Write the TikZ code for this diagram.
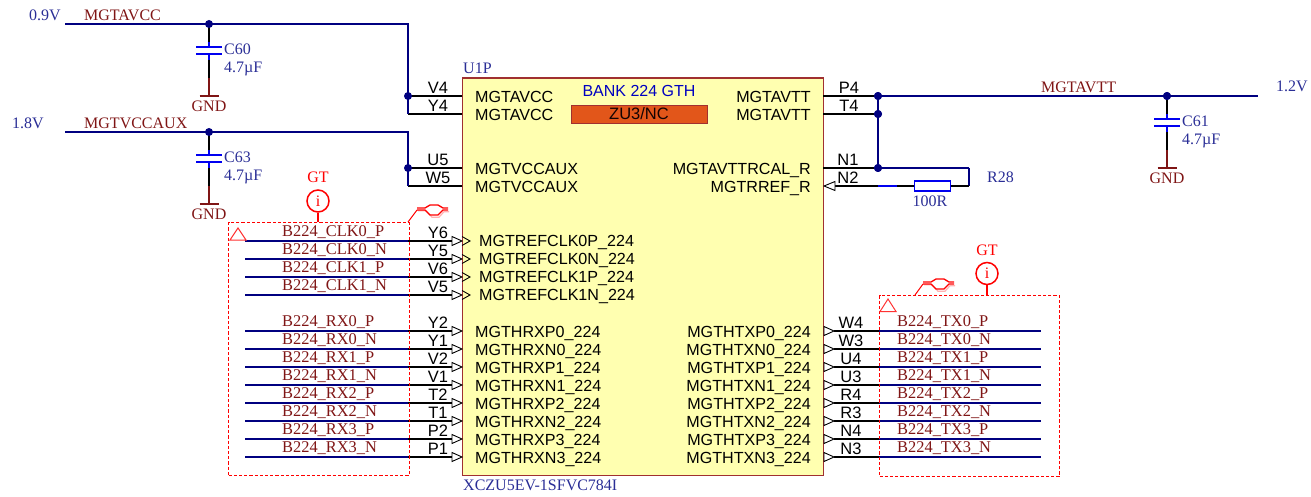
\documentclass[tikz,border=0pt]{standalone}
\usepackage{fontspec}
\setmainfont{Liberation Serif}
\setsansfont{Liberation Sans}
\definecolor{wirenavy}{HTML}{000080}
\definecolor{netred}{HTML}{7F1515}
\definecolor{txtblue}{HTML}{2A2E96}
\definecolor{capblue}{HTML}{0000F0}
\definecolor{chipfill}{HTML}{FFFFB0}
\definecolor{chipedge}{HTML}{A03030}
\definecolor{bankorange}{HTML}{E2561A}
\definecolor{gtred}{HTML}{FF0000}
\tikzset{
  wire/.style={draw=wirenavy,line width=1.7pt},
  pinline/.style={draw=black,line width=1.2pt},
  gndline/.style={draw=netred,line width=1.2pt},
  capplate/.style={draw=capblue,line width=1.5pt},
  stub/.style={draw=capblue,line width=1.2pt},
  dot/.style={circle,fill=wirenavy,inner sep=0pt,minimum size=8pt},
  serifbase/.style={font=\rmfamily\fontsize{16}{16}\selectfont,inner sep=0pt},
  netlabel/.style={serifbase,text=netred,anchor=base west},
  siglabel/.style={netlabel,font=\rmfamily\fontsize{16.4}{16.4}\selectfont},
  netcenter/.style={serifbase,text=netred,anchor=base},
  partlabel/.style={serifbase,text=txtblue,anchor=base west},
  partcenter/.style={serifbase,text=txtblue,anchor=base},
  sanslabel/.style={font=\sffamily\fontsize{16.1}{16.1}\selectfont,inner sep=0pt,text=black},
  pinnameL/.style={sanslabel,anchor=base west},
  pinnameR/.style={sanslabel,anchor=base east},
  pinnum/.style={font=\sffamily\fontsize{16.5}{16.5}\selectfont,inner sep=0pt,text=black,anchor=base},
  tri/.style={draw=black,line width=.9pt,fill=white},
  gtbox/.style={draw=gtred,line width=1.2pt,dash pattern=on 3.2pt off 2pt,inner sep=0pt,anchor=north west},
  gtinfo/.style={circle,draw=gtred,line width=1.5pt,minimum size=22pt,inner sep=0pt,font=\rmfamily\fontsize{16}{16}\selectfont,text=gtred},
  gttext/.style={serifbase,text=gtred,anchor=base},
  gtline/.style={draw=gtred,line width=1.3pt},
  gtshade/.style={draw=gtred!30,line width=1.2pt},
  gtmark/.style={draw=gtred!80,line width=1pt}
}
\begin{document}
\begin{tikzpicture}[x=1pt,y=-1pt]
\useasboundingbox (0,0) rectangle (1311,497);
% chip
\node[draw=chipedge,fill=chipfill,line width=1.2pt,minimum width=361pt,minimum height=397.5pt,inner sep=0pt] (u1) at (643,276.75) {};
\node[draw=chipedge,fill=bankorange,line width=.9pt,minimum width=136pt,minimum height=18pt,inner sep=0pt] (orange) at (639,114) {};
\node[sanslabel,font=\sffamily\fontsize{16.5}{16.5}\selectfont,anchor=base,text=black!85!netred] (zu) at (639,119.8) {ZU3/NC};
\node[sanslabel,font=\sffamily\fontsize{16}{16}\selectfont,anchor=base,text=capblue!80!black] (bank) at (639,97) {BANK 224 GTH};
\node[partlabel] (u1p) at (463,74) {U1P};
\node[partlabel] (part) at (463,490) {XCZU5EV-1SFVC784I};

% power left
\coordinate (avccS) at (65,24);
\coordinate (avccT) at (408,24);
\coordinate (auxS) at (65,132);
\coordinate (auxT) at (408,132);
\coordinate (pV4) at (462,96);
\coordinate (pY4) at (462,114);
\coordinate (pU5) at (462,168);
\coordinate (pW5) at (462,186);
\coordinate (jV4) at (408,96);
\coordinate (jY4) at (408,114);
\coordinate (jU5) at (408,168);
\coordinate (jW5) at (408,186);
\draw[pinline] (jV4) -- (pV4);
\draw[pinline] (jY4) -- (pY4);
\draw[pinline] (jU5) -- (pU5);
\draw[pinline] (jW5) -- (pW5);
\draw[wire] (avccS) -- (avccT) -- (jY4);
\draw[wire] (auxS) -- (auxT) -- (jW5);

% capacitors: name/x/top/label x
\foreach \c/\x/\t/\lab/\lx in {C60/209/24/C60/224, C63/209/132/C63/224, C61/1167/96/C61/1182}{
  \coordinate (\c top) at (\x,\t);
  \coordinate (\c a) at (\x,\t+23-1);
  \coordinate (\c pa) at (\x,\t+24-1);
  \coordinate (\c pb) at (\x,\t+31-1);
  \coordinate (\c b) at (\x,\t+32-1);
  \coordinate (\c mid) at (\x,\t+54);
  \coordinate (\c gnd) at (\x,\t+72);
  \draw[pinline] (\c top) -- (\c a);
  \draw[pinline] (\c b) -- (\c mid);
  \draw[stub] (\x,\t+18) -- (\c pa);
  \draw[stub] (\c pb) -- (\x,\t+36);
  \draw[gndline] (\c mid) -- (\c gnd);
  \draw[gndline] (\x-9.5,\t+72) -- (\x+9.5,\t+72);
  \draw[capplate] (\x-13,\t+23) -- (\x+13,\t+23);
  \draw[capplate] (\x-13,\t+30) -- (\x+13,\t+30);
  \node[partlabel] (\c lbl) at (\lx,\t+31) {\lab};
  \node[partlabel] (\c val) at (\lx,\t+49) {4.7µF};
  \node[netcenter] (\c gndlbl) at (\x,\t+87.5) {GND};
}
\node[dot] (d1) at (209,24) {};
\node[dot] (d2) at (209,132) {};
\node[dot] (d3) at (408,96) {};
\node[dot] (d4) at (408,168) {};
\node[partlabel] (v09) at (29,21) {0.9V};
\node[partlabel] (v18) at (12,129) {1.8V};
\node[netlabel] (navcc) at (84,21) {MGTAVCC};
\node[netlabel] (naux) at (84,129) {MGTVCCAUX};

% power right
\coordinate (pP4) at (823,96);
\coordinate (pT4) at (823,114);
\coordinate (pN1) at (823,168);
\coordinate (pN2) at (835,186);
\coordinate (vttE) at (1258,96);
\coordinate (loopA) at (969,168);
\coordinate (loopB) at (969,186);
\coordinate (n2blueA) at (878,186);
\coordinate (n2blueB) at (897,186);
\node[dot] (j1) at (878,96) {};
\node[dot] (j2) at (878,114) {};
\node[dot] (j3) at (878,168) {};
\node[dot] (j4) at (1167,96) {};
\draw[pinline] (pP4) -- (j1);
\draw[pinline] (pT4) -- (j2);
\draw[pinline] (pN1) -- (j3);
\draw[wire] (j1) -- (j3);
\draw[wire] (j1) -- (vttE);
\draw[wire,line width=1.4pt] (j3) -- (loopA);
\draw[wire,line width=1.4pt] (loopA) -- (loopB);
\draw[pinline] (pN2) -- (loopB);
\draw[draw=capblue,line width=1.2pt] (n2blueA) -- (n2blueB);
\node[draw=capblue,fill=white,line width=1.5pt,minimum width=36pt,minimum height=10pt,inner sep=0pt] (r28) at (932.5,186) {};
\draw[tri] (824,186) -- (835,181.5) -- (835,190.5) -- cycle;
\node[dot] at (j1) {};
\node[dot] at (j2) {};
\node[dot] at (j3) {};
\node[dot] at (j4) {};
\node[partlabel] (r28lbl) at (987,183) {R28};
\node[partcenter] (r28val) at (930,207) {100R};
\node[netlabel] (nvtt) at (1041,93) {MGTAVTT};
\node[partlabel] (v12) at (1276,92) {1.2V};

% top pin texts
\foreach \nm/\num/\y in {MGTAVCC/V4/96, MGTAVCC/Y4/114, MGTVCCAUX/U5/168, MGTVCCAUX/W5/186}{
  \node[pinnameL] (name\num) at (475,\y+6.2) {\nm};
  \node[pinnum] (num\num) at (438,\y-2.2) {\num};
}
\foreach \nm/\num/\nx/\y in {MGTAVTT/P4/849/96, MGTAVTT/T4/849/114, MGTAVTTRCAL\_R/N1/848/168, MGTRREF\_R/N2/848/186}{
  \node[pinnameR] (name\num) at (811,\y+6.2) {\nm};
  \node[pinnum] (num\num) at (\nx,\y-2.5) {\num};
}

% clock inputs
\foreach \sig/\nm/\num/\y in {B224\_CLK0\_P/MGTREFCLK0P\_224/Y6/241, B224\_CLK0\_N/MGTREFCLK0N\_224/Y5/259, B224\_CLK1\_P/MGTREFCLK1P\_224/V6/277, B224\_CLK1\_N/MGTREFCLK1N\_224/V5/295}{
  \coordinate (s\num) at (245,\y);
  \coordinate (m\num) at (408,\y);
  \coordinate (t\num) at (452,\y);
  \draw[pinline] (m\num) -- (t\num);
  \draw[wire] (s\num) -- (m\num);
  \draw[tri] (452,\y-4.5) -- (462,\y) -- (452,\y+4.5) -- cycle;
  \draw[draw=black,line width=.9pt] (462,\y-4.5) -- (470,\y) -- (462,\y+4.5);
  \node[siglabel] (sig\num) at (282,\y-4.2) {\sig};
  \node[pinnum] (num\num) at (438,\y-3) {\num};
  \node[pinnameL] (name\num) at (479,\y+5.7) {\nm};
}

% receive inputs
\foreach \sig/\nm/\num/\y in {B224\_RX0\_P/MGTHRXP0\_224/Y2/331, B224\_RX0\_N/MGTHRXN0\_224/Y1/349, B224\_RX1\_P/MGTHRXP1\_224/V2/367, B224\_RX1\_N/MGTHRXN1\_224/V1/385, B224\_RX2\_P/MGTHRXP2\_224/T2/403, B224\_RX2\_N/MGTHRXN2\_224/T1/421, B224\_RX3\_P/MGTHRXP3\_224/P2/439, B224\_RX3\_N/MGTHRXN3\_224/P1/457}{
  \coordinate (s\num) at (245,\y);
  \coordinate (m\num) at (408,\y);
  \coordinate (t\num) at (452,\y);
  \draw[pinline] (m\num) -- (t\num);
  \draw[wire] (s\num) -- (m\num);
  \draw[tri] (452,\y-4.5) -- (462,\y) -- (452,\y+4.5) -- cycle;
  \node[siglabel] (sig\num) at (282,\y-4.2) {\sig};
  \node[pinnum] (num\num) at (438,\y-3) {\num};
  \node[pinnameL] (name\num) at (475,\y+6.2) {\nm};
}

% transmit outputs
\foreach \sig/\nm/\num/\y in {B224\_TX0\_P/MGTHTXP0\_224/W4/331, B224\_TX0\_N/MGTHTXN0\_224/W3/349, B224\_TX1\_P/MGTHTXP1\_224/U4/367, B224\_TX1\_N/MGTHTXN1\_224/U3/385, B224\_TX2\_P/MGTHTXP2\_224/R4/403, B224\_TX2\_N/MGTHTXN2\_224/R3/421, B224\_TX3\_P/MGTHTXP3\_224/N4/439, B224\_TX3\_N/MGTHTXN3\_224/N3/457}{
  \coordinate (s\num) at (834,\y);
  \coordinate (m\num) at (879,\y);
  \coordinate (t\num) at (1041,\y);
  \draw[pinline] (s\num) -- (m\num);
  \draw[wire] (m\num) -- (t\num);
  \draw[tri] (824,\y-4.5) -- (834,\y) -- (824,\y+4.5) -- cycle;
  \node[siglabel] (sig\num) at (897,\y-4.2) {\sig};
  \node[pinnum] (num\num) at (851,\y-3) {\num};
  \node[pinnameR] (name\num) at (811,\y+6.2) {\nm};
}

% GT regions
\node[gtbox,minimum width=180.5pt,minimum height=253pt] (gtl) at (228,222) {};
\node[gtbox,minimum width=180pt,minimum height=181pt] (gtr) at (879,295) {};
\node[gtinfo] (il) at (318,201) {i};
\node[gtinfo] (ir) at (987,273.5) {i};
\coordinate (ilb) at (318,222);
\coordinate (irb) at (987,295);
\draw[gtline,line width=1.5pt] (il) -- (ilb);
\draw[gtline,line width=1.5pt] (ir) -- (irb);
\node[gttext] (gtlt) at (318,183) {GT};
\node[gttext] (gtrt) at (987,255) {GT};
\draw[gtmark] (230,240) -- (238,228) -- (246,240) -- cycle;
\draw[gtmark] (880,311.5) -- (888,299) -- (896,311.5) -- cycle;
% squiggles
\foreach \ax/\ay/\sx/\sy in {408/222/417/208, 915/295/923/282}{
  \draw[gtshade,xshift=1pt,yshift=-1.2pt] (\sx,\sy+1.5) -- (\sx+8,\sy+1.5) -- (\sx+14,\sy+8) -- (\sx+21,\sy+8) -- (\sx+26,\sy+2.5) -- (\sx+31,\sy+2.5);
  \draw[gtline,line width=1pt] (\ax,\ay) -- (\sx,\sy+2);
  \draw[gtline] (\sx,\sy) -- (\sx+8,\sy) -- (\sx+13,\sy-3) -- (\sx+21,\sy-3) -- (\sx+26,\sy) -- (\sx+31,\sy);
  \draw[gtline] (\sx,\sy+2) -- (\sx+8,\sy+2) -- (\sx+13,\sy+7) -- (\sx+21,\sy+7) -- (\sx+26,\sy+2) -- (\sx+31,\sy+2);
}
\end{tikzpicture}
\end{document}
